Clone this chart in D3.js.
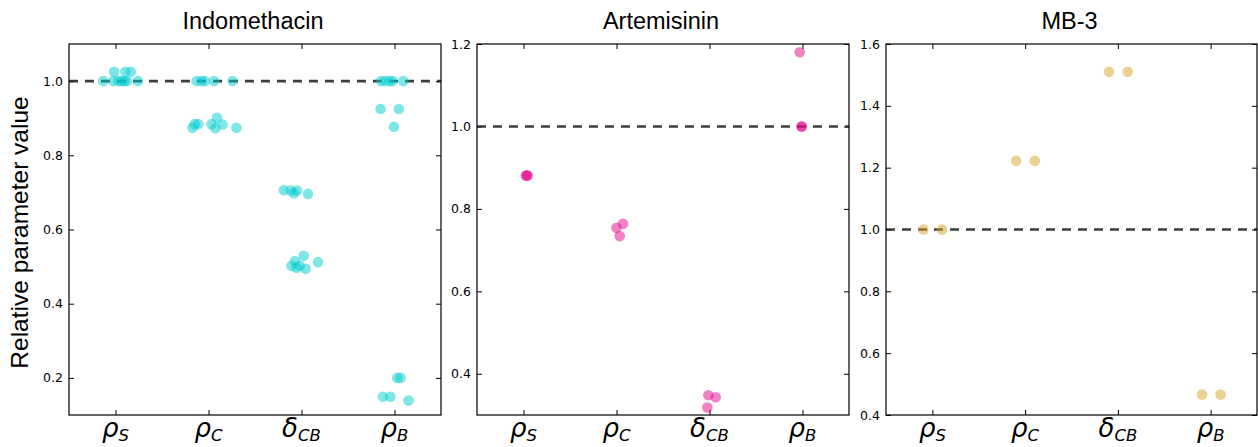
<!DOCTYPE html>
<html>
<head>
<meta charset="utf-8">
<script src="https://cdn.jsdelivr.net/npm/d3@7"></script>
<style>
  body { margin: 0; background: #fff; }
  svg { display: block; }
  .tick text { font-family: "DejaVu Sans", sans-serif; font-size: 12.5px; fill: #000; }
  .tick line { stroke: #000; stroke-width: 1; }
</style>
</head>
<body>
<svg id="chart"></svg>
<script>
// parameter names on the x axis
var paramSymbols = ["ρ", "ρ", "δ", "ρ"];
var paramSubs = ["S", "C", "CB", "B"];

var drugs = ["Indomethacin", "Artemisinin", "MB-3"];
var drugColors = ["#00CED1", "#E3058A", "#DCA22A"];

// y axis ranges and ticks per drug
var yDomains = [[0.1, 1.1], [0.3, 1.2], [0.4, 1.6]];
var yTicks = [
  [0.2, 0.4, 0.6, 0.8, 1.0],
  [0.4, 0.6, 0.8, 1.0, 1.2],
  [0.4, 0.6, 0.8, 1.0, 1.2, 1.4, 1.6]
];

// Indomethacin fits: parameter index, relative value, jitter (category units)
var indoCat = [0,0,0,0,0,0,0,0,0,0,
               1,1,1,1,1,1,1,1,1,1,1,1,1,
               2,2,2,2,2,2,2,2,2,2,2,2,
               3,3,3,3,3,3,3,3,3,3,3,3,3];
var indoVal = [1,1,1,1,1,1,1,1.025,1.025,1.025,
               1,1,1,1,1,0.874,0.884,0.884,0.884,0.901,0.873,0.883,0.874,
               0.706,0.705,0.698,0.705,0.696,0.529,0.515,0.502,0.497,0.502,0.494,0.512,
               1,1,1,1,1,0.925,0.925,0.877,0.2,0.2,0.149,0.149,0.139];
var indoJit = [-0.132,-0.023,0.031,0.063,0.096,0.122,0.241,-0.014,0.106,0.165,
               -0.129,-0.075,-0.040,0.060,0.258,-0.172,-0.147,-0.111,0.032,0.092,0.075,0.151,0.301,
               -0.191,-0.116,-0.081,-0.048,0.070,0.024,-0.070,-0.108,-0.055,-0.019,0.045,0.177,
               -0.146,-0.101,-0.053,-0.020,0.095,-0.149,0.047,-0.006,0.030,0.066,-0.125,-0.045,0.151];

// Artemisinin fits
var arteCat = [0,0,0,1,1,1,2,2,2,3,3,3];
var arteVal = [0.881,0.881,0.881,0.754,0.764,0.734,0.348,0.343,0.318,1.18,1.0,1.0];
var arteJit = [0.025,0.035,0.045,-0.001,0.070,0.035,-0.012,0.067,-0.023,-0.030,-0.012,-0.006];

// MB-3 fits
var mbCat = [0,0,1,1,2,2,3,3];
var mbVal = [1.0,1.0,1.222,1.222,1.51,1.51,0.466,0.466];
var mbJit = [-0.097,0.104,-0.097,0.104,-0.095,0.106,-0.093,0.108];

var W = 1258, H = 447;
var TOP = 44, PH = 371, TICK = 5, R = 5.3;
var panelLeft = [69, 477, 886];
var panelWidth = [372, 372, 371];

var pointSets = [
  {cat: indoCat, val: indoVal, jit: indoJit},
  {cat: arteCat, val: arteVal, jit: arteJit},
  {cat: mbCat, val: mbVal, jit: mbJit}
];

var svg = d3.select("#chart").attr("width", W).attr("height", H);

// shared y label
svg.append("text")
  .attr("transform", "translate(28," + (TOP + PH / 2 + 3) + ") rotate(-90)")
  .attr("text-anchor", "middle")
  .style("font-family", "'Liberation Sans', Arial, sans-serif")
  .style("font-size", "24.5px")
  .text("Relative parameter value");

drugs.forEach(function(name, k) {
  var w = panelWidth[k];
  var g = svg.append("g").attr("transform", "translate(" + panelLeft[k] + "," + TOP + ")");

  var x = d3.scaleLinear().domain([-0.5, 3.5]).range([0, w]);
  var y = d3.scaleLinear().domain(yDomains[k]).range([PH, 0]);
  var cats = d3.range(paramSymbols.length);

  // ticks pointing inward on all four sides
  g.append("g").attr("class", "axis")
    .call(d3.axisLeft(y).tickValues(yTicks[k]).tickFormat(d3.format(".1f"))
      .tickSizeInner(-TICK).tickSizeOuter(0).tickPadding(6))
    .call(function(a) { a.select(".domain").remove(); });
  g.append("g").attr("class", "axis")
    .attr("transform", "translate(" + w + ",0)")
    .call(d3.axisRight(y).tickValues(yTicks[k]).tickFormat("")
      .tickSizeInner(-TICK).tickSizeOuter(0))
    .call(function(a) { a.select(".domain").remove(); });
  g.append("g").attr("class", "axis")
    .call(d3.axisTop(x).tickValues(cats).tickFormat("")
      .tickSizeInner(-TICK).tickSizeOuter(0))
    .call(function(a) { a.select(".domain").remove(); });
  g.append("g").attr("class", "axis")
    .attr("transform", "translate(0," + PH + ")")
    .call(d3.axisBottom(x).tickValues(cats).tickFormat("")
      .tickSizeInner(-TICK).tickSizeOuter(0))
    .call(function(a) { a.select(".domain").remove(); });

  // reference line at 1
  g.append("line")
    .attr("x1", 0).attr("x2", w)
    .attr("y1", y(1)).attr("y2", y(1))
    .style("stroke", "#222")
    .style("stroke-opacity", 0.88)
    .style("stroke-width", 2.6)
    .style("stroke-dasharray", "9,7");

  var ps = pointSets[k];
  g.selectAll(".pt").data(ps.val)
    .enter().append("circle")
    .attr("class", "pt")
    .attr("cx", function(d, i) { return x(ps.cat[i] + ps.jit[i]); })
    .attr("cy", function(d) { return y(d); })
    .attr("r", R)
    .style("fill", drugColors[k])
    .style("fill-opacity", 0.5);

  // frame
  g.append("rect")
    .attr("width", w).attr("height", PH)
    .style("fill", "none")
    .style("stroke", "#000")
    .style("stroke-width", 1.2);

  // title
  g.append("text")
    .attr("x", w / 2 - 2).attr("y", 29 - TOP)
    .attr("text-anchor", "middle")
    .style("font-family", "'Liberation Sans', Arial, sans-serif")
    .style("font-size", "23.5px")
    .text(name);

  // x labels with subscripts
  var lab = g.selectAll(".xlab").data(cats)
    .enter().append("text")
    .attr("class", "xlab")
    .attr("x", function(d) { return x(d); })
    .attr("y", PH + 22)
    .attr("text-anchor", "middle")
    .style("font-family", "'DejaVu Sans', sans-serif")
    .style("font-style", "italic");
  lab.append("tspan")
    .style("font-size", "26px")
    .text(function(d) { return paramSymbols[d]; });
  lab.append("tspan")
    .attr("dy", 4)
    .style("font-size", "16.5px")
    .text(function(d) { return paramSubs[d]; });
});
</script>
</body>
</html>
